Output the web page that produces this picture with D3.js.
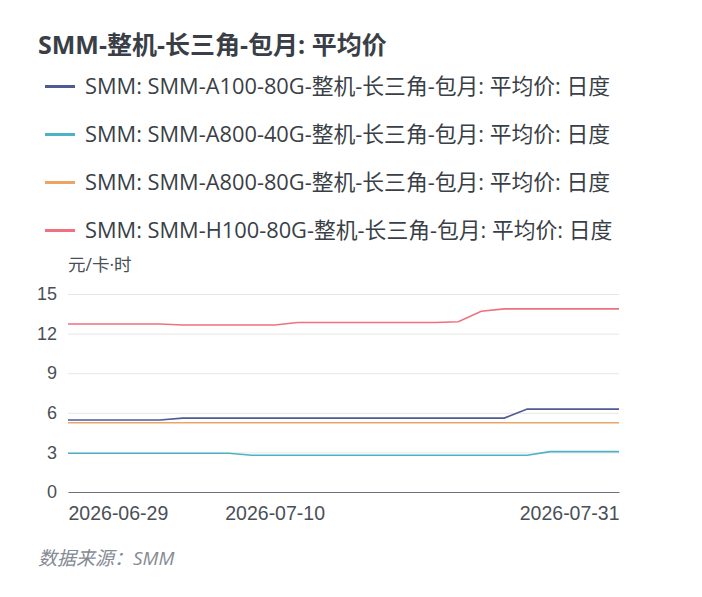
<!DOCTYPE html>
<html>
<head>
  <meta charset="utf-8">
  <title>SMM-整机-长三角-包月: 平均价</title>
  <script src="https://d3js.org/d3.v7.min.js"></script>
  <style>
    body {
      margin: 0;
      background: #fff;
      font-family: "Open Sans", "Noto Sans CJK SC", sans-serif;
    }
    .grid line { stroke: #e6e6e6; }
    .tick text { fill: #4a4f57; }
  </style>
</head>
<body>
  <svg width="702" height="597"></svg>
  <script>
    // Trading days shown on the x axis (25 points)
    var dates = [
      "2026-06-29", "2026-06-30", "2026-07-01", "2026-07-02", "2026-07-03",
      "2026-07-06", "2026-07-07", "2026-07-08", "2026-07-09", "2026-07-10",
      "2026-07-13", "2026-07-14", "2026-07-15", "2026-07-16", "2026-07-17",
      "2026-07-20", "2026-07-21", "2026-07-22", "2026-07-23", "2026-07-24",
      "2026-07-27", "2026-07-28", "2026-07-29", "2026-07-30", "2026-07-31"
    ];
    var xTickLabels = ["2026-06-29", "2026-07-10", "2026-07-31"];
    var yTicks = [0, 3, 6, 9, 12, 15];

    var seriesNames = [
      "SMM: SMM-A100-80G-整机-长三角-包月: 平均价: 日度",
      "SMM: SMM-A800-40G-整机-长三角-包月: 平均价: 日度",
      "SMM: SMM-A800-80G-整机-长三角-包月: 平均价: 日度",
      "SMM: SMM-H100-80G-整机-长三角-包月: 平均价: 日度"
    ];
    var colors = ["#4f5b93", "#4cb3c6", "#eca566", "#f07080"];

    var a100_80 = [5.45, 5.45, 5.45, 5.45, 5.45, 5.6, 5.6, 5.6, 5.6, 5.6,
                   5.6, 5.6, 5.6, 5.6, 5.6, 5.6, 5.6, 5.6, 5.6, 5.6,
                   6.28, 6.28, 6.28, 6.28, 6.28];
    var a800_40 = [2.93, 2.93, 2.93, 2.93, 2.93, 2.93, 2.93, 2.93, 2.78, 2.78,
                   2.78, 2.78, 2.78, 2.78, 2.78, 2.78, 2.78, 2.78, 2.78, 2.78,
                   2.78, 3.06, 3.06, 3.06, 3.06];
    var a800_80 = [5.25, 5.25, 5.25, 5.25, 5.25, 5.25, 5.25, 5.25, 5.25, 5.25,
                   5.25, 5.25, 5.25, 5.25, 5.25, 5.25, 5.25, 5.25, 5.25, 5.25,
                   5.25, 5.25, 5.25, 5.25, 5.25];
    var h100_80 = [12.73, 12.73, 12.73, 12.73, 12.73, 12.65, 12.65, 12.65, 12.65, 12.65,
                   12.84, 12.84, 12.84, 12.84, 12.84, 12.84, 12.84, 12.9, 13.7, 13.87,
                   13.87, 13.87, 13.87, 13.87, 13.87];
    var series = [a100_80, a800_40, a800_80, h100_80];

    var svg = d3.select("svg");
    var margin = {top: 294, right: 83, bottom: 105, left: 68};
    var width = 702 - margin.left - margin.right,
        height = 597 - margin.top - margin.bottom;

    // Title
    svg.append("text")
        .attr("x", 38).attr("y", 54)
        .attr("font-size", 25).attr("font-weight", "bold")
        .attr("fill", "#3a3f47")
        .text("SMM-整机-长三角-包月: 平均价");

    // Legend
    var legend = svg.selectAll(".legend")
        .data(seriesNames)
      .enter().append("g")
        .attr("class", "legend")
        .attr("transform", function(d, i) { return "translate(45," + (86.5 + i * 48) + ")"; });
    legend.append("line")
        .attr("x1", 0).attr("x2", 30)
        .attr("stroke", function(d, i) { return colors[i]; })
        .attr("stroke-width", 3);
    legend.append("text")
        .attr("x", 40).attr("dy", "0.36em")
        .attr("font-size", 21.8).attr("fill", "#3a3f47")
        .text(function(d) { return d; });

    // Unit label
    svg.append("text")
        .attr("x", 68).attr("y", 271)
        .attr("font-size", 17.5).attr("fill", "#4a4f57")
        .text("元/卡·时");

    var g = svg.append("g")
        .attr("transform", "translate(" + margin.left + "," + margin.top + ")");

    var x = d3.scalePoint().domain(dates).range([0, width]);
    var y = d3.scaleLinear().domain([0, 15]).range([height, 0]);

    // Grid and y labels
    g.append("g")
        .attr("class", "grid")
        .call(d3.axisLeft(y).tickValues(yTicks).tickSize(-width).tickFormat(""))
        .call(function(s) { s.select(".domain").remove(); });

    g.append("g")
        .call(d3.axisLeft(y).tickValues(yTicks).tickSize(0).tickPadding(11))
        .call(function(s) {
          s.select(".domain").remove();
          s.selectAll("text").attr("font-size", 18).attr("font-family", "inherit");
        });

    // X axis
    var xAxis = g.append("g")
        .attr("transform", "translate(0," + height + ")")
        .call(d3.axisBottom(x).tickValues(xTickLabels).tickSize(0).tickPadding(14));
    xAxis.select(".domain").attr("stroke", "#6e7079");
    xAxis.selectAll("text")
        .attr("font-size", 19.5).attr("font-family", "inherit")
        .attr("text-anchor", function(d, i) {
          return i === 0 ? "start" : (i === xTickLabels.length - 1 ? "end" : "middle");
        });

    // Lines
    var line = d3.line()
        .x(function(d, i) { return x(dates[i]); })
        .y(function(d) { return y(d); });

    g.selectAll(".series")
        .data(series)
      .enter().append("path")
        .attr("class", "series")
        .attr("fill", "none")
        .attr("stroke", function(d, i) { return colors[i]; })
        .attr("stroke-width", 1.6)
        .attr("d", line);

    // Source
    svg.append("text")
        .attr("x", 38).attr("y", 565)
        .attr("font-size", 19).attr("font-style", "italic")
        .attr("fill", "#858a94")
        .text("数据来源：SMM");
  </script>
</body>
</html>
